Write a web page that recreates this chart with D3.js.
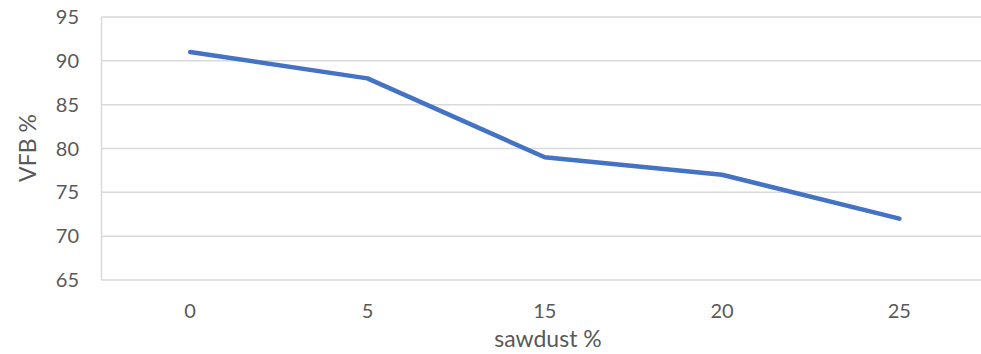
<!DOCTYPE html>
<html><head><meta charset="utf-8">
<script src="https://cdn.jsdelivr.net/npm/d3@7"></script>
<style>body{margin:0;background:#fff}svg{display:block}text{font-family:Lato,"Open Sans",sans-serif;fill:#595959}</style>
</head><body><svg id="c" width="981" height="354"></svg>
<script>
const categories = ["0","5","15","20","25"];
const values = [91,88,79,77,72];
const yTicks = [65,70,75,80,85,90,95];

(function(){
const svg = d3.select("#c");
const pLeft = 101.5, pTop = 17, pBottom = 280, bandW = 177.3;
const x = d3.scaleBand().domain(categories).range([pLeft, pLeft + bandW*categories.length]).padding(0);
const y = d3.scaleLinear().domain([65,95]).range([pBottom, pTop]);

svg.append("g").selectAll("line").data(yTicks).join("line")
  .attr("x1", pLeft).attr("x2", 981)
  .attr("y1", d=>y(d)).attr("y2", d=>y(d))
  .attr("stroke","#d9d9d9").attr("stroke-width",1.5);
svg.append("line").attr("x1",pLeft).attr("x2",pLeft).attr("y1",pTop).attr("y2",pBottom)
  .attr("stroke","#d9d9d9").attr("stroke-width",1.5);

svg.append("g").selectAll("text").data(yTicks).join("text")
  .attr("x",79).attr("y",d=>y(d)).attr("dy","0.35em").attr("text-anchor","end")
  .attr("font-size",20).text(d=>d);

svg.append("g").selectAll("text").data(categories).join("text")
  .attr("x",d=>x(d)+x.bandwidth()/2).attr("y",311).attr("dy","0.35em").attr("text-anchor","middle")
  .attr("font-size",20).text(d=>d);

const line = d3.line().x((d,i)=>x(categories[i])+x.bandwidth()/2).y(d=>y(d));
svg.append("path").datum(values).attr("d",line).attr("fill","none")
  .attr("stroke","#4472c4").attr("stroke-width",4.5).attr("stroke-linecap","round").attr("stroke-linejoin","round");

svg.append("text").attr("x",548).attr("y",339).attr("dy","0.35em").attr("text-anchor","middle")
  .attr("font-size",23).text("sawdust %");
svg.append("text").attr("transform","translate(28,148) rotate(-90)").attr("dy","0.35em").attr("text-anchor","middle")
  .attr("font-size",23).text("VFB %");
})();
</script></body></html>
